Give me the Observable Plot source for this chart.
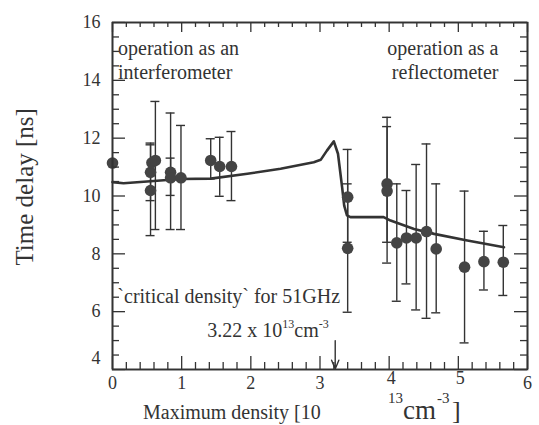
<!DOCTYPE html>
<html><head><meta charset="utf-8">
<script src="https://cdn.jsdelivr.net/npm/d3@7"></script>
<script src="https://cdn.jsdelivr.net/npm/@observablehq/plot@0.6"></script>
<style>body{margin:0;background:#fff} svg{display:block}</style>
</head><body><div id="chart"></div>
<script>
// Measured points: maximum density [10^13 cm^-3] and time delay [ns]
const density = [0.00, 0.55, 0.55, 0.57, 0.62, 0.84, 0.84, 0.99, 1.42, 1.55, 1.72, 3.40, 3.40, 3.97, 3.97, 4.11, 4.25, 4.39, 4.54, 4.68, 5.09, 5.37, 5.65];
const delay   = [11.14, 10.19, 10.82, 11.15, 11.23, 10.82, 10.63, 10.63, 11.23, 11.02, 11.02, 9.96, 8.19, 10.42, 10.17, 8.38, 8.55, 8.55, 8.77, 8.17, 7.54, 7.73, 7.71];
const errLow  = [null, 8.63, 9.84, null, 8.84, 8.84, 10.02, 8.84, 10.59, 9.99, 9.84, 8.40, 5.98, 8.40, 7.68, 6.36, 6.96, 6.06, 5.77, 5.96, 4.92, 6.75, 6.56];
const errHigh = [null, 11.83, 11.77, null, 13.27, 12.87, 11.31, 12.44, 11.98, 12.03, 12.23, 11.61, 10.42, 12.40, 12.72, 10.42, 10.19, 11.09, 11.80, 10.42, 10.17, 8.78, 8.98];

// Calculated curve
const curveDensity = [0.00, 0.16, 0.50, 0.98, 1.42, 1.95, 2.43, 2.91, 3.01, 3.10, 3.20, 3.26, 3.32, 3.35, 3.39, 3.44, 3.92, 4.02, 4.36, 4.65, 5.13, 5.66];
const curveDelay   = [10.48, 10.44, 10.50, 10.59, 10.60, 10.77, 10.94, 11.17, 11.25, 11.57, 11.89, 11.46, 10.30, 9.67, 9.33, 9.27, 9.27, 9.15, 8.86, 8.69, 8.46, 8.23];

const criticalDensity = 3.22;

// Axis extents and ticks
const xDomain = [0, 6];
const yDomain = [4, 16];
const xMajor = [0, 1, 2, 3, 4, 5, 6];
const xMinor = [0.2,0.4,0.6,0.8,1.2,1.4,1.6,1.8,2.2,2.4,2.6,2.8,3.2,3.4,3.6,3.8,4.2,4.4,4.6,4.8,5.2,5.4,5.6,5.8];
const yMajor = [4, 6, 8, 10, 12, 14, 16];
const yMinor = [4.5,5,5.5,6.5,7,7.5,8.5,9,9.5,10.5,11,11.5,12.5,13,13.5,14.5,15,15.5];
const xLabelsLow = [0, 1, 2, 3, 6];
const xLabelsHigh = [4, 5];
const yLabels = [6, 8, 10, 12, 14, 16];
const yLabelsLow = [4];

// Annotations
const notesLeft = [
  {text: "operation as an\ninterferometer", x: 0.08, y: 14.72},
  {text: "`critical density` for 51GHz", x: 0.07, y: 6.56}
];
const notesRight = [{text: "operation as a\nreflectometer", x: 5.58, y: 14.72}];
const arrowData = [{x: criticalDensity, top: 5.0, bottom: 4.02}];

const points = density.map((d, i) => ({x: d, y: delay[i], lo: errLow[i], hi: errHigh[i]}));
const bars = points.filter(p => p.lo != null);
const curve = curveDensity.map((d, i) => ({x: d, y: curveDelay[i]}));

const ink = "#333";
const serif = "'Liberation Serif', 'Times New Roman', serif";
const W = 539, H = 425, mL = 112, mR = 12, mT = 22, mB = 56;

const [xa, xb] = xDomain, [ya, yb] = yDomain;
const tk = {stroke: ink, strokeWidth: 1.3};

const plot = Plot.plot({
  width: W, height: H,
  marginLeft: mL, marginRight: mR, marginTop: mT, marginBottom: mB,
  x: {domain: xDomain, axis: null},
  y: {domain: yDomain, axis: null},
  style: {fontFamily: serif, background: "white"},
  marks: [
    // tick labels
    Plot.text(xLabelsLow, {x: d => d, frameAnchor: "bottom", dy: 19, fontSize: 18, fill: ink}),
    Plot.text(xLabelsHigh, {x: d => d, frameAnchor: "bottom", dy: 14, dx: 2, fontSize: 18, fill: ink}),
    Plot.text(yLabels, {y: d => d, frameAnchor: "left", textAnchor: "end", dx: -12, fontSize: 18, fill: ink}),
    Plot.text(yLabelsLow, {y: d => d, frameAnchor: "left", textAnchor: "end", dx: -12, dy: -11, fontSize: 18, fill: ink}),
    // error bars
    Plot.ruleX(bars, {x: "x", y1: "lo", y2: "hi", stroke: ink, strokeWidth: 1.4}),
    Plot.ruleY(bars, {y: "lo", x1: "x", x2: "x", insetLeft: -4.5, insetRight: -4.5, stroke: ink, strokeWidth: 1.4}),
    Plot.ruleY(bars, {y: "hi", x1: "x", x2: "x", insetLeft: -4.5, insetRight: -4.5, stroke: ink, strokeWidth: 1.4}),
    // curve
    Plot.line(curve, {x: "x", y: "y", stroke: ink, strokeWidth: 2.6}),
    // points
    Plot.dot(points, {x: "x", y: "y", r: 5.8, fill: "#444", stroke: "none"}),
    // annotations
    Plot.text(notesLeft, {x: "x", y: "y", text: "text", textAnchor: "start", fontSize: 20, lineHeight: 1.2, fill: ink}),
    Plot.text(notesRight, {x: "x", y: "y", text: "text", textAnchor: "end", fontSize: 20, lineHeight: 1.2, fill: ink}),
    Plot.arrow(arrowData, {x1: "x", x2: "x", y1: "top", y2: "bottom", stroke: ink, strokeWidth: 1.4, headLength: 11, headAngle: 45}),
    // box drawn as rules on the domain edges
    Plot.ruleX(xDomain, {x: d => d, y1: ya, y2: yb, stroke: ink, strokeWidth: 1.6}),
    Plot.ruleY(yDomain, {y: d => d, x1: xa, x2: xb, stroke: ink, strokeWidth: 1.6}),
    // inward ticks, bottom and top
    Plot.ruleX(xMajor, {x: d => d, y1: ya, y2: ya, insetTop: -13, ...tk}),
    Plot.ruleX(xMinor, {x: d => d, y1: ya, y2: ya, insetTop: -7, ...tk}),
    Plot.ruleX(xMajor, {x: d => d, y1: yb, y2: yb, insetBottom: -10, ...tk}),
    Plot.ruleX(xMinor, {x: d => d, y1: yb, y2: yb, insetBottom: -5, ...tk}),
    // inward ticks, left and right
    Plot.ruleY(yMajor, {y: d => d, x1: xa, x2: xa, insetRight: -13, ...tk}),
    Plot.ruleY(yMinor, {y: d => d, x1: xa, x2: xa, insetRight: -7, ...tk}),
    Plot.ruleY(yMajor, {y: d => d, x1: xb, x2: xb, insetLeft: -13, ...tk}),
    Plot.ruleY(yMinor, {y: d => d, x1: xb, x2: xb, insetLeft: -7, ...tk}),
    Plot.frame({stroke: ink, strokeWidth: 1.6})
  ]
});

const svg = d3.select(plot);
const sx = plot.scale("x"), sy = plot.scale("y");

// critical density value label with superscripts
const ct = svg.append("text").attr("x", sx.apply(criticalDensity) - 6).attr("y", sy.apply(4) - 32)
  .attr("text-anchor", "end").attr("font-family", serif).attr("font-size", 20).attr("fill", ink);
ct.append("tspan").text("3.22 x 10");
ct.append("tspan").attr("font-size", 12).attr("dy", -9).text("13");
ct.append("tspan").attr("dy", 9).text("cm");
ct.append("tspan").attr("font-size", 12).attr("dy", -9).text("-3");

// y axis title
svg.append("text").attr("transform", `translate(${mL - 85},${sy.apply(10.3)}) rotate(-90)`)
  .attr("text-anchor", "middle").attr("dominant-baseline", "middle")
  .attr("font-family", serif).attr("font-size", 25).attr("fill", ink)
  .text("Time delay [ns]");

// x axis title (split as in the original)
const base = H - 6;
const xt = [
  {t: "Maximum density [10", x: 143, y: base, s: 20},
  {t: "13", x: 388, y: base - 16, s: 15},
  {t: "cm", x: 403, y: base, s: 27},
  {t: "-3", x: 437, y: base - 16, s: 15},
  {t: "]", x: 452, y: base, s: 26}
];
for (const p of xt) {
  svg.append("text").attr("x", p.x).attr("y", p.y).attr("text-anchor", "start")
    .attr("font-family", serif).attr("font-size", p.s).attr("fill", ink).text(p.t);
}

document.getElementById("chart").appendChild(plot);
</script>
</body></html>
